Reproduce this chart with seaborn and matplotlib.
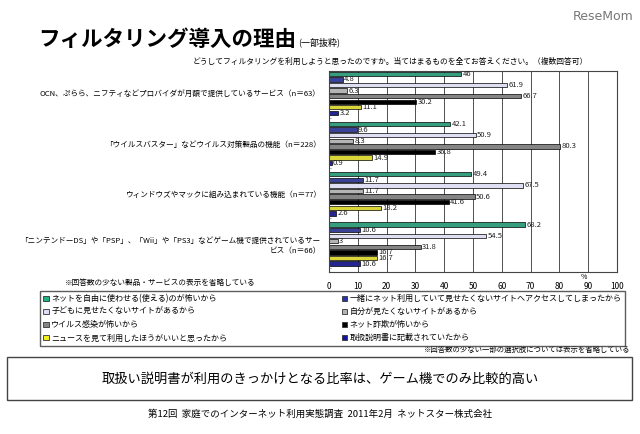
import matplotlib
matplotlib.use('Agg')
import matplotlib.pyplot as plt
import matplotlib.patches as mpatches
import pandas as pd
import seaborn as sns

# data
groups = [
    'OCN、ぷらら、ニフティなどプロバイダが月額で提供しているサービス（n＝63）',
    '「ウイルスバスター」などウイルス対策製品の機能（n＝228）',
    'ウィンドウズやマックに組み込まれている機能（n＝77）',
    '「ニンテンドーDS」や「PSP」、「Wii」や「PS3」などゲーム機で提供されているサー\nビス（n＝66）',
]
reasons = [
    'ネットを自由に使わせる(使える)のが怖いから',
    '一緒にネット利用していて見せたくないサイトへアクセスしてしまったから',
    '子どもに見せたくないサイトがあるから',
    '自分が見たくないサイトがあるから',
    'ウイルス感染が怖いから',
    'ネット詐欺が怖いから',
    'ニュースを見て利用したほうがいいと思ったから',
    '取扱説明書に記載されていたから',
]
vals_ocn = [46, 4.8, 61.9, 6.3, 66.7, 30.2, 11.1, 3.2]
vals_virus = [42.1, 9.6, 50.9, 8.3, 80.3, 36.8, 14.9, 0.9]
vals_os = [49.4, 11.7, 67.5, 11.7, 50.6, 41.6, 18.2, 2.6]
vals_game = [68.2, 10.6, 54.5, 3, 31.8, 16.7, 16.7, 10.6]
colors = ['#22b085', '#2a35a5', '#dcdcf6', '#b4b4b4', '#858585', '#000000', '#f5ee1e', '#1414a0']

rows = []
for g, vals in zip(groups, [vals_ocn, vals_virus, vals_os, vals_game]):
    for r, v in zip(reasons, vals):
        rows.append({'group': g, 'reason': r, 'value': v})
df = pd.DataFrame(rows)

plt.rcParams['font.family'] = ['Noto Sans CJK JP', 'DejaVu Sans']

W, H = 640, 434
fig = plt.figure(figsize=(6.4, 4.34), dpi=100)
fig.patch.set_facecolor('white')

def fx(px):
    return px / W

def fy(py):
    return 1 - py / H

ax = fig.add_axes([fx(329), fy(272), fx(617) - fx(329), fy(71) - fy(272)])
sns.barplot(data=df, y='group', x='value', hue='reason', orient='h',
            palette=colors, width=8 / 9, gap=0.22, edgecolor='black',
            linewidth=0.5, legend=False, ax=ax)

for c in ax.containers:
    ax.bar_label(c, fmt='%g', padding=1, fontsize=5.5, color='#222222')

# empty slot marker under each group
for i in range(len(groups)):
    ax.text(0.4, i + 0.5, '-', fontsize=4, va='center', ha='left')

ax.set_xlim(0, 100)
ax.set_ylim(len(groups) - 0.5 + 1 / 18, -4 / 9)
ax.set_xticks(range(0, 101, 10))
ax.tick_params(axis='x', length=0, labelsize=6, pad=7)
ax.tick_params(axis='y', length=0, labelsize=5.5, pad=6)
ax.set_yticks(range(len(groups)))
ax.set_yticklabels(groups, fontsize=5.5, ha='right', linespacing=1.3)
ax.set_xlabel('')
ax.set_ylabel('')
ax.grid(axis='x', color='#333333', linewidth=0.6)
ax.set_axisbelow(True)
for s in ax.spines.values():
    s.set_color('#444444')
    s.set_linewidth(0.8)
ax.text(88.5, 3.58, '%', fontsize=5, ha='center', va='top')

# title and headings
fig.text(fx(38), fy(46), 'フィルタリング導入の理由', fontsize=15.5, fontweight='bold', va='baseline')
fig.text(fx(298), fy(45), '(一部抜粋)', fontsize=6.5, va='baseline')
fig.text(fx(633), fy(16), 'ReseMom', fontsize=9, color='#777777', ha='right', va='center',
         family=['DejaVu Sans'])
fig.text(fx(390), fy(62), 'どうしてフィルタリングを利用しようと思ったのですか。当てはまるものを全てお答えください。（複数回答可）',
         fontsize=5.6, ha='center', va='center')
fig.text(fx(160), fy(283), '※回答数の少ない製品・サービスの表示を省略している', fontsize=5.5,
         ha='center', va='center')

# legend, filled row by row like the reference
order = [0, 2, 4, 6, 1, 3, 5, 7]
handles = [mpatches.Patch(facecolor=colors[i], edgecolor='#333333', linewidth=0.6, label=reasons[i])
           for i in order]
leg = fig.legend(handles=handles, ncol=2, loc='upper left', mode='expand',
                 bbox_to_anchor=(fx(40), fy(343), fx(625) - fx(40), fy(291) - fy(343)),
                 fontsize=5.8, frameon=True, fancybox=False, handlelength=0.7,
                 handleheight=0.7, handletextpad=0.3, labelspacing=0.5,
                 borderpad=0.4, borderaxespad=0)
leg.get_frame().set_edgecolor('#333333')
leg.get_frame().set_linewidth(1.0)

fig.text(fx(630), fy(350), '※回答数の少ない一部の選択肢については表示を省略している', fontsize=5.3,
         ha='right', va='center')

# summary box
box = mpatches.Rectangle((fx(7), fy(400)), fx(632) - fx(7), fy(357) - fy(400),
                         transform=fig.transFigure, facecolor='white',
                         edgecolor='#444444', linewidth=1.0)
fig.patches.append(box)
fig.text(0.5, fy(379), '取扱い説明書が利用のきっかけとなる比率は、ゲーム機でのみ比較的高い',
         fontsize=9.5, ha='center', va='center')
fig.text(0.5, fy(414), '第12回  家庭でのインターネット利用実態調査  2011年2月  ネットスター株式会社',
         fontsize=6.8, ha='center', va='center')

fig.savefig('out.png', dpi=100)
